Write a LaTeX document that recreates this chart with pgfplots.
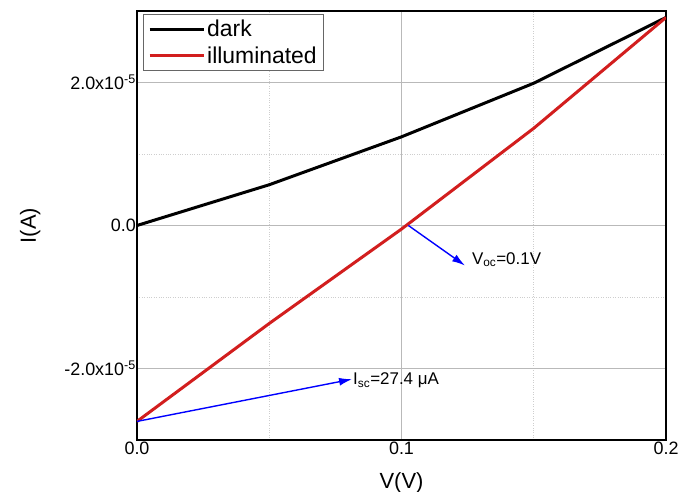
\documentclass[border=0pt]{standalone}
\usepackage{fontspec}
\setmainfont{Liberation Sans}
\usepackage{pgfplots}
\pgfplotsset{compat=1.18}
\usetikzlibrary{arrows.meta}
\definecolor{myred}{RGB}{210,30,30}
\definecolor{gridgray}{RGB}{185,185,185}
\begin{document}
\begin{tikzpicture}[x=1bp,y=1bp]
\useasboundingbox (-137,-52) rectangle (549,440);
\begin{axis}[
  at={(0,0)}, anchor=south west,
  scale only axis, width=529bp, height=429bp,
  xmin=0, xmax=0.2, ymin=-3e-5, ymax=3e-5,
  scaled x ticks=false, scaled y ticks=false,
  xtick={0,0.1,0.2}, xticklabels={0.0,0.1,0.2},
  ytick={-2e-5,0,2e-5},
  yticklabels={-2.0x10\textsuperscript{-5},0.0,2.0x10\textsuperscript{-5}},
  minor x tick num=1, minor y tick num=1,
  major tick length=0pt, minor tick length=0pt,
  grid=both,
  major grid style={gridgray, line width=1bp},
  minor grid style={gridgray!70, dotted, line width=0.8bp},
  axis line style={black, line width=1.6bp},
  tick label style={font=\fontsize{18}{21}\selectfont},
  yticklabel style={inner sep=1bp},
  xticklabel style={inner sep=2bp},
  xlabel={V(V)}, ylabel={I(A)},
  label style={font=\fontsize{22}{25}\selectfont},
  xlabel style={at={(axis description cs:0.5,-0.1)}, anchor=center},
  ylabel style={at={(axis description cs:-0.202,0.5)}, anchor=center, rotate=0},
  legend style={at={(0.011,0.993)}, anchor=north west, draw=gray!80!black, line width=0.8bp,
    font=\fontsize{23}{26}\selectfont, inner xsep=5bp, inner ysep=4bp,
    row sep=4bp,
    /tikz/every even column/.append style={column sep=0bp}},
  legend cell align=left,
  legend image code/.code={\draw[#1, line width=3bp] (0bp,0bp) -- (54bp,0bp);},
]
\addplot[black, line width=3bp] coordinates {
  (0,0) (0.05,0.57e-5) (0.1,1.24e-5) (0.15,1.99e-5) (0.2,2.91e-5)};
\addlegendentry{dark}
\addplot[myred, line width=3bp] coordinates {
  (0,-2.74e-5) (0.05,-1.37e-5) (0.1,-0.05e-5) (0.15,1.36e-5) (0.2,2.91e-5)};
\addlegendentry{illuminated}
\draw[blue, line width=1.4bp, -{Latex[length=13bp,width=8bp]}]
  (axis cs:0.1026,0) -- (axis cs:0.124,-0.56e-5);
\node[anchor=west, inner sep=1bp, font=\fontsize{17}{20}\selectfont]
  at (axis cs:0.1262,-0.48e-5) {V\textsubscript{oc}=0.1V};
\draw[blue, line width=1.4bp, -{Latex[length=13bp,width=8bp]}]
  (axis cs:0,-2.74e-5) -- (axis cs:0.0813,-2.15e-5);
\node[anchor=west, inner sep=1bp, font=\fontsize{17}{20}\selectfont]
  at (axis cs:0.0813,-2.17e-5) {I\textsubscript{sc}=27.4 μA};
\end{axis}
\end{tikzpicture}
\end{document}
